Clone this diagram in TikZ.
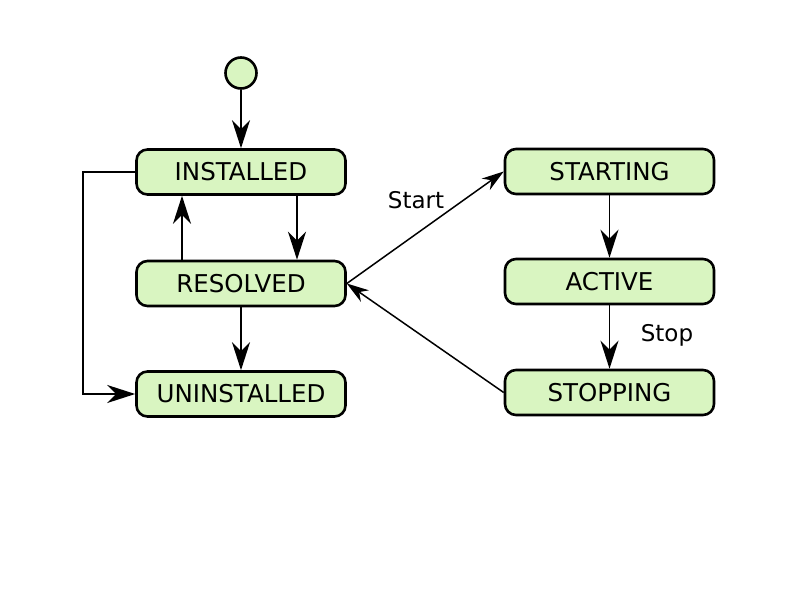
\documentclass[tikz,border=0pt]{standalone}
\usepackage{fontspec}
\setmainfont{DejaVu Sans}
\usetikzlibrary{arrows.meta}
\definecolor{boxfill}{RGB}{217,245,193}
\begin{document}
\begin{tikzpicture}[x=1pt,y=-1pt,
  state/.style={draw=black, line width=2.6pt, fill=boxfill, rounded corners=11pt,
    minimum width=209pt, minimum height=45pt, inner sep=0pt, font=\fontsize{24.5}{28}\selectfont},
  bigarrow/.style={line width=1.8pt, -{Stealth[length=28pt, width=18pt, inset=9pt]}},
  smallarrow/.style={line width=1.5pt, -{Stealth[length=22pt, width=14pt, inset=7pt]}},
  lbl/.style={font=\fontsize{23}{26}\selectfont, inner sep=0pt}]
\useasboundingbox (0,0) rectangle (793,600);
\fill[white] (0,0) rectangle (793,600);
\node[circle, draw=black, line width=2.6pt, fill=boxfill, minimum size=31pt, inner sep=0pt] (init) at (241,73) {};
\node[state] (inst) at (241,172) {INSTALLED};
\node[state] (res) at (241,283.5) {RESOLVED};
\node[state] (uninst) at (241,394) {UNINSTALLED};
\node[state] (start) at (609.5,171.5) {STARTING};
\node[state] (act) at (609.5,281.5) {ACTIVE};
\node[state] (stop) at (609.5,392.5) {STOPPING};
\coordinate (lc) at (83,0);
\draw[bigarrow] (init) -- (inst);
\draw[bigarrow] (inst.west) -- (inst.west -| lc) -- (uninst.west -| lc) -- (uninst.west);
\draw[bigarrow] (res.north -| 182,0) -- (inst.south -| 182,0);
\draw[bigarrow] (inst.south -| 297,0) -- (res.north -| 297,0);
\draw[bigarrow] (res) -- (uninst);
\draw[smallarrow] (res.east) -- (start.west);
\draw[bigarrow] (start) -- (act);
\draw[bigarrow] (act) -- (stop);
\draw[smallarrow] (stop.west) -- (res.east);
\node[lbl] (lstart) at (416,200) {Start};
\node[lbl] (lstop) at (667,335) {Stop};
\end{tikzpicture}
\end{document}
